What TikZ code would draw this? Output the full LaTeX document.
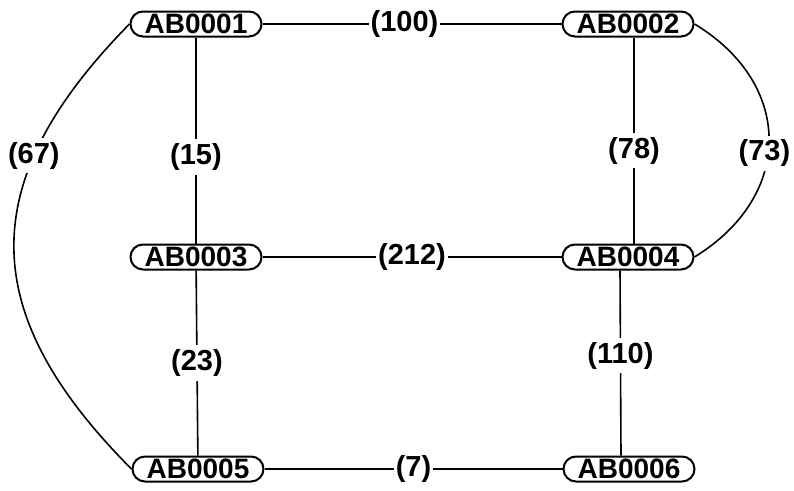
\documentclass[tikz,border=0pt]{standalone}
\usepackage{fontspec}
\setmainfont{Liberation Sans}
\begin{document}
\begin{tikzpicture}[x=1pt,y=-1pt,
    rec/.style={draw,line width=2pt,rounded corners=12.5pt,minimum width=131pt,minimum height=25pt,inner sep=0pt,font=\fontsize{28}{30}\selectfont\bfseries},
    cost/.style={fill=white,inner xsep=2pt,inner ysep=4pt,font=\fontsize{29}{30}\selectfont\bfseries},
    link/.style={line width=1.6pt}]
    \useasboundingbox (0,0) rectangle (794,490);

    \node[rec] (ab1) at (196,24) {AB0001};
    \node[rec] (ab2) at (628,24) {AB0002};
    \node[rec] (ab3) at (196,257) {AB0003};
    \node[rec] (ab4) at (628,257) {AB0004};
    \node[rec] (ab5) at (198,469) {AB0005};
    \node[rec] (ab6) at (629,469) {AB0006};

    \draw[link] (ab1) -- node[cost,pos=0.475] {(100)} (ab2);
    \draw[link] (ab3) -- node[cost] {(212)} (ab4);
    \draw[link] (ab5) -- node[cost] {(7)} (ab6);

    \draw[link] (ab1) -- node[cost,pos=0.58] {(15)} (ab3);
    \draw[link] (ab3) -- node[cost,pos=0.5] {(23)} (ab5);
    \draw[link] ([xshift=6]ab2.south) -- node[cost,pos=0.55] {(78)} ([xshift=6]ab4.north);
    \draw[link] ([xshift=-8]ab4.south) -- node[cost,pos=0.46] {(110)} ([xshift=-8]ab6.north);

    \draw[link] (ab1.west) .. controls (-26,182) and (-24,313) .. node[cost,pos=0.29] {(67)} (ab5.west);
    \draw[link] (ab2.east) .. controls (794,84) and (794,196) .. node[cost,pos=0.55,xshift=-4] {(73)} (ab4.east);
\end{tikzpicture}
\end{document}
